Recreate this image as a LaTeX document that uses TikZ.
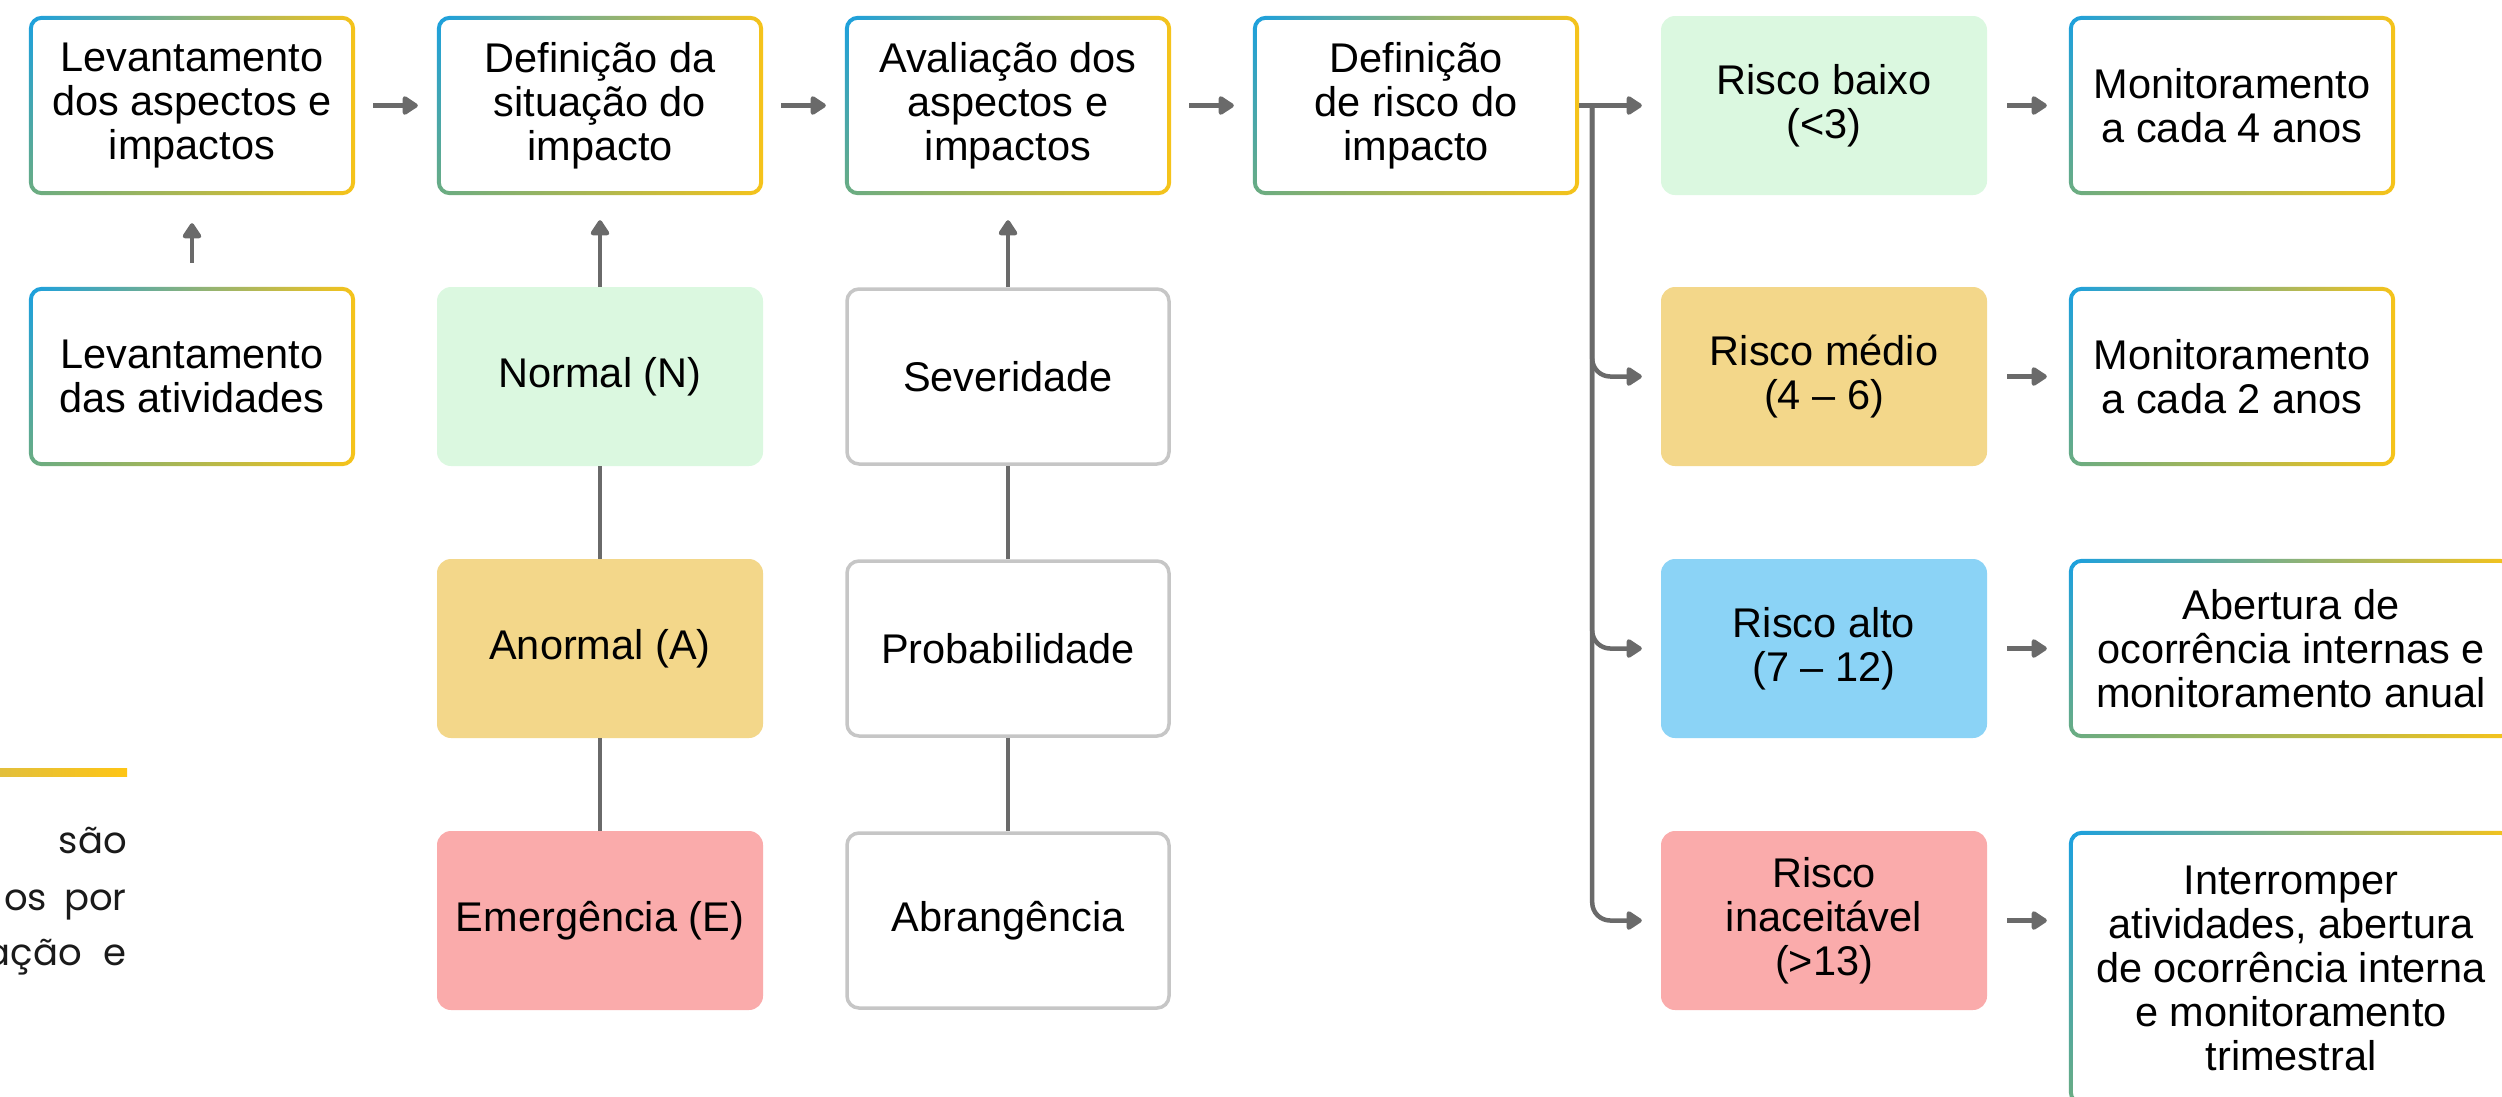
\documentclass[tikz,border=0pt]{standalone}
\usepackage{fontspec}
\setmainfont{Liberation Sans}
\newfontfamily\parafont{Poppins}
\usetikzlibrary{arrows.meta,calc}
\definecolor{arrgray}{HTML}{6A6A6A}
\definecolor{boxgray}{HTML}{C6C6C6}
\definecolor{cgreen}{HTML}{DBF8E0}
\definecolor{cyellow}{HTML}{F3D78A}
\definecolor{cblue}{HTML}{8BD3F6}
\definecolor{cred}{HTML}{FAABAB}
\definecolor{textdark}{HTML}{1A1A1A}
\definecolor{barleft}{HTML}{E2BF3C}
\definecolor{barright}{HTML}{FEC515}
\pgfdeclarefunctionalshading{gborder}{\pgfpoint{0bp}{0bp}}{\pgfpoint{100bp}{100bp}}{}{
 25 sub 50 div exch 25 sub 50 div exch
 2 copy -0.314 mul 0.416 add exch dup 0.965 mul 3 1 roll 1 exch sub mul add 3 1 roll
 2 copy -0.048 mul 0.675 add exch dup 0.765 mul 3 1 roll 1 exch sub mul add 3 1 roll
 0.368 mul 0.510 add exch dup 0.102 mul 3 1 roll 1 exch sub mul add
}
\newcommand\boxfont{\fontsize{41.5}{44}\selectfont}
\tikzset{
  basebox/.style={minimum width=326pt, minimum height=179pt, inner sep=0pt,
    align=center, font=\boxfont, text=black},
  gbox/.style={basebox},
  fbox/.style={basebox, fill=#1, rounded corners=14pt},
  graybox/.style={basebox, draw=boxgray, line width=3.5pt, rounded corners=12pt,
    minimum width=322pt, minimum height=175pt},
  arr/.style={draw=arrgray, line width=4.5pt, -{Triangle[length=17pt,width=21pt,round]}},
  conn/.style={draw=arrgray, line width=3.5pt},
  para/.style={font=\parafont\fontsize{37}{40}\selectfont, text=textdark, inner sep=0pt, anchor=base east}
}
\begin{document}
\begin{tikzpicture}[x=1pt,y=-1pt]
\useasboundingbox (0,0) rectangle (2502,1096);
\clip (0,0) rectangle (2502,1096);
% row 1
\node[gbox] (a1) at (192,105.5) {Levantamento\\dos aspectos e\\impactos};
\node[gbox] (a2) at (600,105.5) {Definição da\\situação do\\impacto};
\node[gbox] (a3) at (1008,105.5) {Avaliação dos\\aspectos e\\impactos};
\node[gbox] (a4) at (1416,105.5) {Definição\\de risco do\\impacto};
% column 1
\node[gbox] (b1) at (192,376.5) {Levantamento\\das atividades};
% situations
\node[fbox=cgreen] (sn) at (600,376.5) {Normal (N)};
\node[fbox=cyellow] (sa) at (600,648.5) {Anormal (A)};
\node[fbox=cred] (se) at (600,920.5) {Emergência (E)};
% evaluation
\node[graybox] (ev1) at (1008,376.5) {Severidade};
\node[graybox] (ev2) at (1008,648.5) {Probabilidade};
\node[graybox] (ev3) at (1008,920.5) {Abrangência};
% risks
\node[fbox=cgreen] (r1) at (1824,105.5) {Risco baixo\\(<3)};
\node[fbox=cyellow] (r2) at (1824,376.5) {Risco médio\\(4 – 6)};
\node[fbox=cblue] (r3) at (1824,648.5) {Risco alto\\(7 – 12)};
\node[fbox=cred] (r4) at (1824,920.5) {Risco\\inaceitável\\(>13)};
% results
\node[gbox] (m1) at (2232,105.5) {Monitoramento\\a cada 4 anos};
\node[gbox] (m2) at (2232,376.5) {Monitoramento\\a cada 2 anos};
\node[gbox, minimum width=444pt] (m3) at (2291,648.5) {Abertura de\\ocorrência internas e\\monitoramento anual};
\node[gbox, minimum width=444pt, minimum height=274pt] (m4) at (2291,968) {Interromper\\atividades, abertura\\de ocorrência interna\\e monitoramento\\trimestral};
% gradient borders
\foreach \n in {a1,a2,a3,a4,b1,m1,m2,m3,m4}{
  \shade[shading=gborder, even odd rule]
    [rounded corners=13pt] (\n.south west) rectangle (\n.north east)
    [rounded corners=9pt] ([shift={(4pt,4pt)}]\n.south west) rectangle ([shift={(-4pt,-4pt)}]\n.north east);
}
% horizontal flow
\draw[arr, shorten <=18pt, shorten >=19pt] (a1) -- (a2);
\draw[arr, shorten <=18pt, shorten >=19pt] (a2) -- (a3);
\draw[arr, shorten <=18pt, shorten >=19pt] (a3) -- (a4);
% up arrows
\draw[arr, shorten <=24pt, shorten >=28pt] (b1) -- (a1);
\draw[arr, shorten >=25pt] (sn) -- (a2);
\draw[arr, shorten >=25pt] (ev1) -- (a3);
% vertical connectors
\draw[conn] (sn) -- (sa);
\draw[conn] (sa) -- (se);
\draw[conn] (ev1) -- (ev2);
\draw[conn] (ev2) -- (ev3);
% branching
\coordinate (br) at ($(a4.east)+(13pt,0pt)$);
\draw[arr, shorten >=19pt] (a4) -- (r1);
\draw[arr, rounded corners=18pt, shorten >=19pt] (br) |- (r2);
\draw[arr, rounded corners=18pt, shorten >=19pt] (br) |- (r3);
\draw[arr, rounded corners=18pt, shorten >=19pt] (br) |- (r4);
% risk to result
\draw[arr, shorten <=20pt, shorten >=22pt] (r1) -- (m1);
\draw[arr, shorten <=20pt, shorten >=22pt] (r2) -- (m2);
\draw[arr, shorten <=20pt, shorten >=22pt] (r3) -- (m3);
\draw[arr, shorten <=20pt, shorten >=22pt] (r4.east) -- (r4.east -| m4.west);
% partial paragraph at bottom left
\shade[left color=barleft, right color=barright] (0,768) rectangle (127,776);
\node[para] (p1) at (127,853) {são};
\node[para] (p2) at (127,910) {os\hspace{17pt}por};
\node[para] (p3) at (127,965) {ação\hspace{22pt}e};
\end{tikzpicture}
\end{document}
